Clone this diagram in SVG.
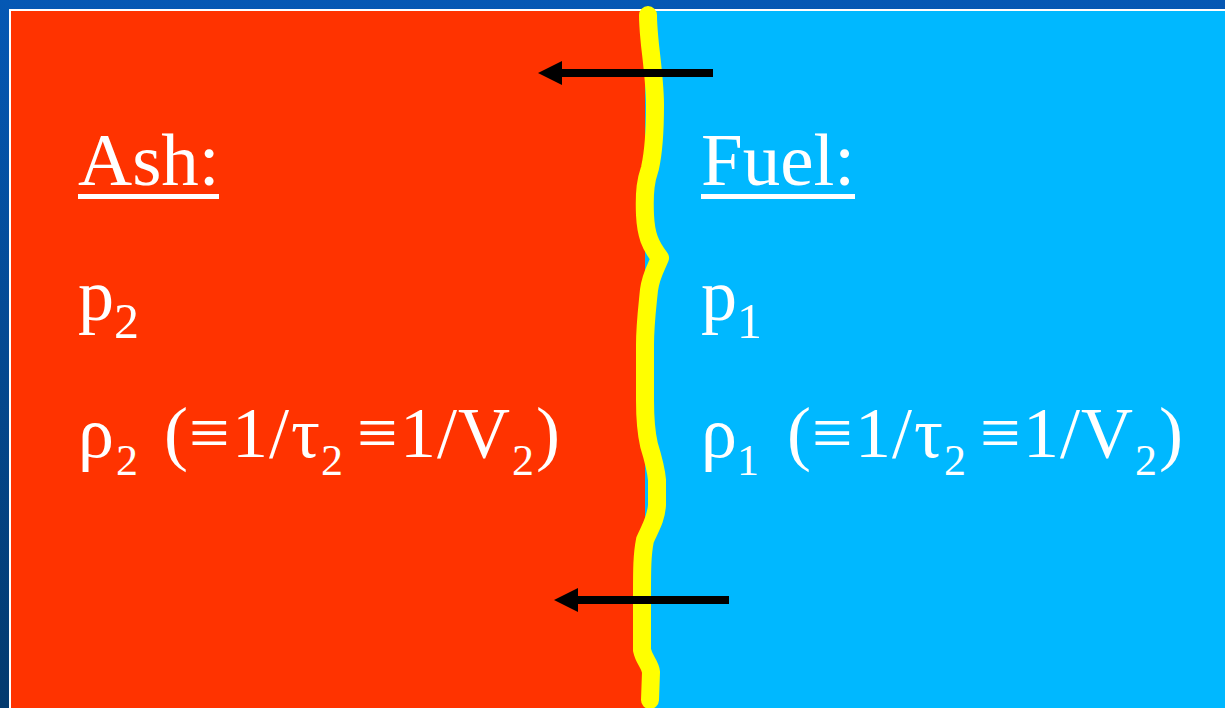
<svg xmlns="http://www.w3.org/2000/svg" width="1225" height="708" viewBox="0 0 1225 708">
<defs>
<linearGradient id="bg" x1="0" y1="0" x2="0" y2="1">
<stop offset="0" stop-color="#0558b4"/>
<stop offset="1" stop-color="#033a6e"/>
</linearGradient>
<marker id="ah" viewBox="0 0 24 24" refX="0" refY="12" markerWidth="24" markerHeight="24" markerUnits="userSpaceOnUse" orient="auto">
<path d="M0,0 L24,12 L0,24 Z" fill="#000"/>
</marker>
<style>
.t{font-family:"Liberation Serif","Times New Roman",serif;fill:#fff;font-size:72px}
.h{font-size:75px}
.s{font-size:44px}
.s2{font-size:50px}
.ul{fill:#fff}
.arrow{stroke:#000;stroke-width:8;fill:none}
</style>
</defs>
<rect x="0" y="0" width="1225" height="708" fill="url(#bg)"/>
<rect x="9" y="9" width="1216" height="699" fill="#fff"/>
<g id="ash-region">
<rect x="11" y="11" width="640" height="697" fill="#ff3300"/>
</g>
<g id="fuel-region">
<rect x="645" y="11" width="580" height="697" fill="#00b8ff"/>
</g>
<g id="front">
<path d="M648,15 C648,26 649,34 650,45 C653,70 655,90 655,105 C655,130 654,150 650,168 C646,180 644,190 645,215 C646,235 650,245 660,258 C656,268 651,275 649,290 C647,310 645,325 645,345 L645,400 C645,420 646,432 649,445 C653,458 656,468 657,480 L657,505 C656,520 650,528 645,540 C642,555 642,570 642,595 L642,650 C644,660 650,664 651,672 L650,700" fill="none" stroke="#ffff00" stroke-width="18" stroke-linecap="round" stroke-linejoin="round"/>
</g>
<g id="connectors">
<line class="arrow" x1="713" y1="73" x2="562" y2="73" marker-end="url(#ah)"/>
<line class="arrow" x1="729" y1="600" x2="578" y2="600" marker-end="url(#ah)"/>
</g>
<g id="ash-label">
<text class="t h" x="78" y="185">Ash:</text>
<rect class="ul" x="78" y="194" width="141" height="5"/>
<text class="t" x="78" y="320">p<tspan class="s2" dy="18">2</tspan></text>
<text class="t" y="457"><tspan x="78">ρ</tspan><tspan class="s" x="116" dy="18">2</tspan><tspan x="164" dy="-18">(</tspan><tspan x="189">≡</tspan><tspan x="232">1</tspan><tspan x="269">/</tspan><tspan x="291">τ</tspan><tspan class="s" x="321" dy="18">2</tspan><tspan x="357" dy="-18">≡</tspan><tspan x="400">1</tspan><tspan x="437">/</tspan><tspan x="458">V</tspan><tspan class="s" x="512" dy="18">2</tspan><tspan x="536" dy="-18">)</tspan></text>
</g>
<g id="fuel-label">
<text class="t h" x="701" y="185">Fuel:</text>
<rect class="ul" x="701" y="194" width="154" height="5"/>
<text class="t" x="701" y="320">p<tspan class="s2" dy="18">1</tspan></text>
<text class="t" y="457"><tspan x="701">ρ</tspan><tspan class="s" x="737" dy="18">1</tspan><tspan x="787" dy="-18">(</tspan><tspan x="812">≡</tspan><tspan x="855">1</tspan><tspan x="892">/</tspan><tspan x="914">τ</tspan><tspan class="s" x="944" dy="18">2</tspan><tspan x="980" dy="-18">≡</tspan><tspan x="1023">1</tspan><tspan x="1060">/</tspan><tspan x="1081">V</tspan><tspan class="s" x="1135" dy="18">2</tspan><tspan x="1159" dy="-18">)</tspan></text>
</g>
</svg>
